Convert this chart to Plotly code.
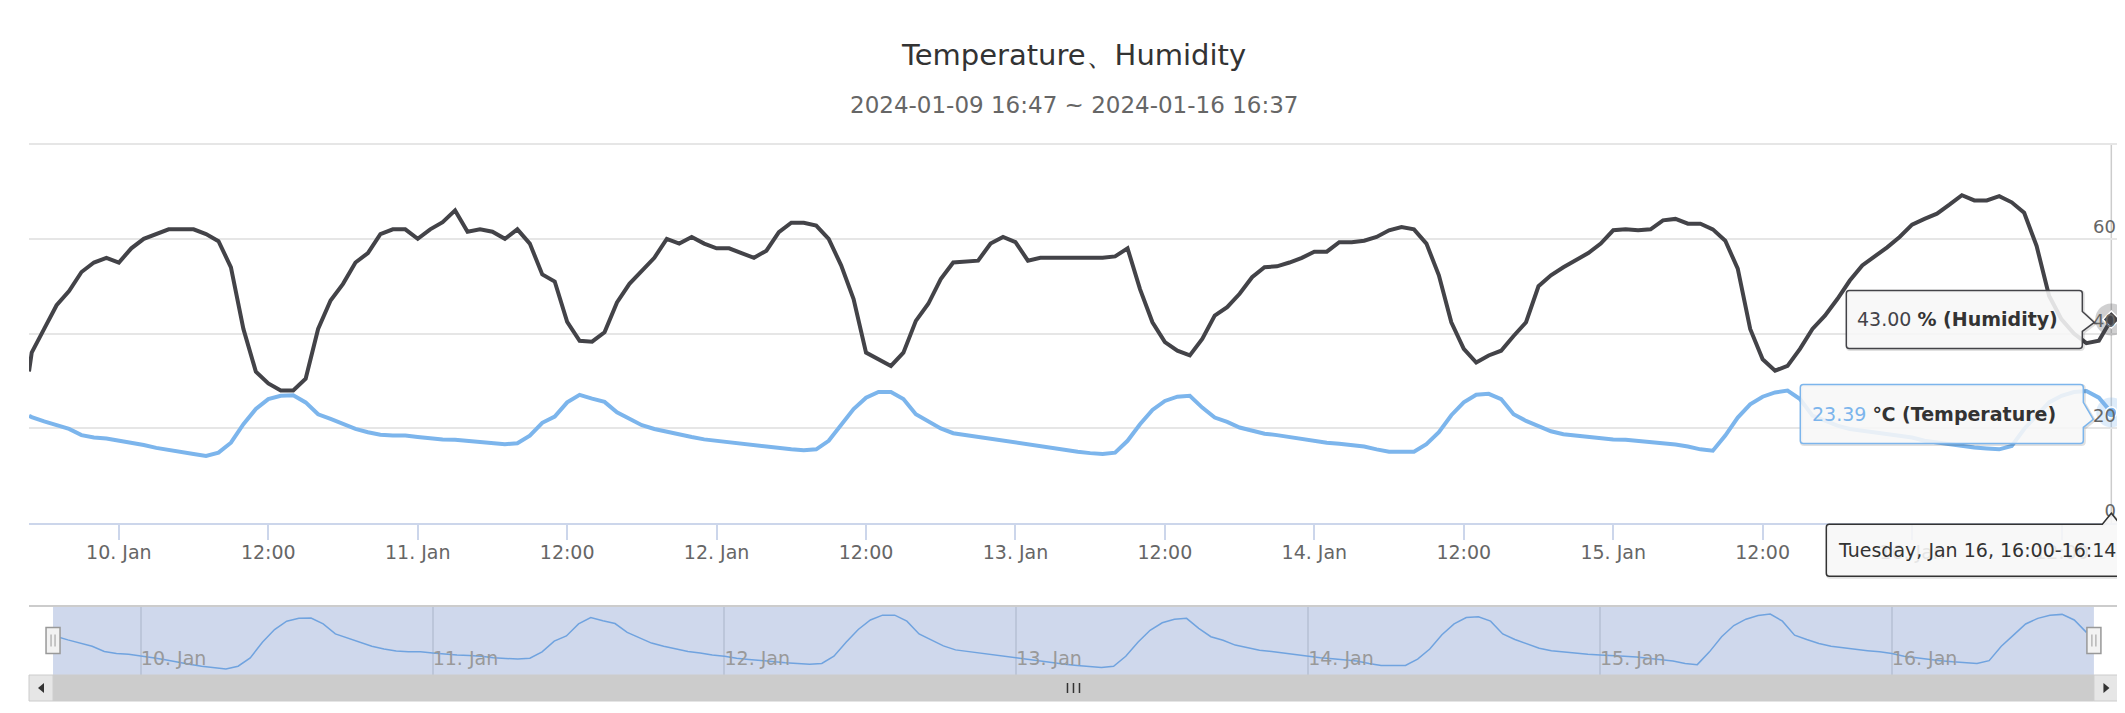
import pandas as pd
import plotly.graph_objects as go

TITLE = "Temperature、Humidity"
SUBTITLE = "2024-01-09 16:47 ~ 2024-01-16 16:37"
TOOLTIP_HEADER = "Tuesday, Jan 16, 16:00-16:14"

# first reading, then one (grouped) reading per hour
times = ["2024-01-09 16:47"] + [
    t.strftime("%Y-%m-%d %H:%M")
    for t in pd.date_range("2024-01-09 17:00", "2024-01-16 16:00", freq="h")
]

temperature = (
    [22.7]
    + [22.4, 21.5, 20.7, 19.9, 18.6, 18.1, 17.9]
    + [17.5, 17.0, 16.5, 15.9, 15.4, 14.9, 14.6, 14.2, 14.9, 17.0, 20.9, 24.1,
       26.2, 26.9, 27.0, 25.5, 23.0, 22.0, 20.9, 19.9, 19.2, 18.7, 18.5, 18.5]
    + [18.2, 17.9, 17.7, 17.6, 17.4, 17.0, 16.9, 16.7, 16.9, 18.5, 21.2, 22.5,
       25.5, 27.1, 26.3, 25.6, 23.4, 22.0, 20.7, 19.9, 19.3, 18.6, 18.2, 17.7]
    + [17.4, 16.9, 16.6, 16.3, 16.0, 15.8, 15.6, 15.4, 15.6, 17.4, 20.9, 24.1,
       26.5, 27.7, 27.7, 26.2, 23.0, 21.6, 20.0, 19.0, 18.6, 18.2, 17.7, 17.3]
    + [17.0, 16.6, 16.2, 15.8, 15.4, 15.1, 14.8, 14.6, 14.9, 17.4, 20.9, 23.9,
       25.8, 26.7, 26.9, 24.4, 22.3, 21.4, 20.2, 19.5, 18.9, 18.6, 18.2, 17.7]
    + [17.4, 17.0, 16.8, 16.5, 16.2, 15.6, 15.1, 15.1, 15.1, 16.7, 19.2, 22.8,
       25.5, 27.1, 27.3, 26.2, 23.0, 21.6, 20.4, 19.4, 18.8, 18.5, 18.1, 17.9]
    + [17.7, 17.6, 17.4, 17.2, 16.9, 16.6, 16.2, 15.6, 15.3, 18.5, 22.3, 25.1,
       26.7, 27.6, 28.0, 26.2, 22.7, 21.6, 20.6, 19.9, 19.5, 19.2, 18.8, 18.5]
    + [18.1, 17.4, 17.0, 16.7, 16.3, 16.0, 15.8, 15.6, 16.3, 19.9, 22.7, 25.5,
       26.9, 27.7, 27.9, 26.5, 23.39]
)

humidity = (
    [32]
    + [36, 41, 46, 49, 53, 55, 56]
    + [55, 58, 60, 61, 62, 62, 62, 61, 59.5, 54, 41, 32,
       29.5, 28, 28, 30.5, 41, 47, 50.5, 55, 57, 61, 62, 62]
    + [60, 62, 63.5, 66, 61.5, 62, 61.5, 60, 62, 59, 52.5, 51,
       42.5, 38.5, 38.3, 40.3, 46.6, 50.5, 53.3, 56, 60, 59, 60.4, 59]
    + [58, 58, 57, 56, 57.5, 61.4, 63.4, 63.4, 62.8, 60, 54.4, 47.3,
       36, 34.6, 33.2, 36, 42.7, 46.3, 51.5, 55, 55.2, 55.4, 59, 60.4]
    + [59.3, 55.4, 56, 56, 56, 56, 56, 56, 56.3, 58, 49.4, 42.4,
       38.2, 36.4, 35.4, 38.9, 43.8, 45.6, 48.4, 51.9, 54, 54.2, 55, 56]
    + [57.3, 57.3, 59.3, 59.3, 59.6, 60.4, 61.8, 62.5, 62, 59, 52.3, 42.4,
       36.8, 33.9, 35.4, 36.4, 39.5, 42.4, 50, 52.3, 54, 55.4, 57, 59]
    + [61.8, 62, 61.8, 62, 63.9, 64.2, 63.2, 63.2, 62, 59.6, 53.7, 41,
       34.6, 32.2, 33.2, 36.8, 41, 43.8, 47.3, 51.2, 54.4, 56.3, 58.2, 60.4]
    + [63, 64.2, 65.3, 67.2, 69.2, 68.1, 68.1, 69, 67.7, 65.5, 58.5, 48,
       43, 40, 38, 38.5, 43]
)

x_tick_vals = [
    "2024-01-10 00:00", "2024-01-10 12:00", "2024-01-11 00:00", "2024-01-11 12:00",
    "2024-01-12 00:00", "2024-01-12 12:00", "2024-01-13 00:00", "2024-01-13 12:00",
    "2024-01-14 00:00", "2024-01-14 12:00", "2024-01-15 00:00", "2024-01-15 12:00",
    "2024-01-16 00:00", "2024-01-16 12:00",
]
x_tick_text = [
    "10. Jan", "12:00", "11. Jan", "12:00", "12. Jan", "12:00", "13. Jan", "12:00",
    "14. Jan", "12:00", "15. Jan", "12:00", "16. Jan", "12:00",
]
y_tick_vals = [0, 20, 40, 60, 80]
y_tick_text = ["0", "20", "40", "60", ""]
x_range = ["2024-01-09 16:47", "2024-01-16 16:37"]

FONT = "DejaVu Sans"
BLUE = "#7cb5ec"
DARK = "#434348"
# the page body keeps its 8px margin, so the figure is 8px smaller each way
FIG_W, FIG_H = 2117, 705
MARGIN = {"l": 21, "r": 6, "t": 131, "b": 12}
PLOT_H = FIG_H - MARGIN["t"] - MARGIN["b"]


def paper_y(px):
    # page pixel (from top) -> paper fraction
    return (FIG_H + 8 - MARGIN["b"] - px) / PLOT_H


MAIN_DOMAIN = [paper_y(523.3), 1.0]
NAV_DOMAIN = [paper_y(675), paper_y(606)]
NAV_X = [0.0115, 0.988]
Y_TOP = 80 * (523.3 - 139) / (523.3 - 144)  # keeps the 80 gridline off the clipped edge


def callout_path(l, r, t, b, side, tip, base, dx=0, dy=0):
    # pixel offsets, y pointing up
    l, r, t, b = l + dx, r + dx, t + dy, b + dy
    tx, ty = tip[0] + dx, tip[1] + dy
    p = [f"M{l + 3},{t}"]
    if side == "top":
        p += [f"L{base[0] + dx},{t}", f"L{tx},{ty}", f"L{base[1] + dx},{t}"]
    p += [f"L{r - 3},{t}", f"Q{r},{t} {r},{t - 3}"]
    if side == "right":
        p += [f"L{r},{base[0] + dy}", f"L{tx},{ty}", f"L{r},{base[1] + dy}"]
    p += [f"L{r},{b + 3}", f"Q{r},{b} {r - 3},{b}", f"L{l + 3},{b}",
          f"Q{l},{b} {l},{b + 3}", f"L{l},{t - 3}", f"Q{l},{t} {l + 3},{t}", "Z"]
    return " ".join(p)


fig = go.Figure()

# main series
fig.add_trace(go.Scatter(x=times, y=temperature, mode="lines", name="Temperature",
                         line={"color": BLUE, "width": 4}, xaxis="x", yaxis="y"))
fig.add_trace(go.Scatter(x=times, y=humidity, mode="lines", name="Humidity",
                         line={"color": DARK, "width": 4}, xaxis="x", yaxis="y"))

# hover state of the last point
fig.add_trace(go.Scatter(x=[times[-1]], y=[humidity[-1]], mode="markers",
                         marker={"size": 32, "color": "rgba(67,67,72,0.25)"}))
fig.add_trace(go.Scatter(x=[times[-1]], y=[humidity[-1]], mode="markers",
                         marker={"size": 13, "symbol": "diamond", "color": DARK,
                                 "line": {"color": "white", "width": 1.5}}))
fig.add_trace(go.Scatter(x=[times[-1]], y=[temperature[-1]], mode="markers",
                         marker={"size": 30, "color": "rgba(124,181,236,0.25)"}))
fig.add_trace(go.Scatter(x=[times[-1]], y=[temperature[-1]], mode="markers",
                         marker={"size": 11, "color": BLUE,
                                 "line": {"color": "white", "width": 1.5}}))

# navigator series
fig.add_trace(go.Scatter(x=times, y=temperature, mode="lines",
                         line={"color": "#70a3df", "width": 1.5}, xaxis="x2", yaxis="y2"))

shapes = []
# crosshair
shapes.append(dict(type="line", xref="x", yref="y", x0=times[-1], x1=times[-1],
                   y0=0, y1=80, line={"color": "#cccccc", "width": 1.5}, layer="below"))

# navigator background (mask) and outline
shapes.append(dict(type="rect", xref="x2 domain", yref="y2 domain", x0=0, x1=1, y0=0, y1=1,
                   fillcolor="#cfd8ec", line={"width": 0}, layer="below"))
shapes.append(dict(type="line", xref="paper", yref="y2 domain", x0=0, x1=1, y0=1, y1=1,
                   line={"color": "#cccccc", "width": 2}))

# navigator handles
for anchor in (0, 1):
    shapes.append(dict(type="rect", xref="x2 domain", yref="y2 domain",
                       xsizemode="pixel", ysizemode="pixel", xanchor=anchor, yanchor=0.5,
                       x0=-7, x1=7, y0=-13, y1=13, fillcolor="#f2f2f2",
                       line={"color": "#999999", "width": 1.5}))
    for off in (-2, 2):
        shapes.append(dict(type="line", xref="x2 domain", yref="y2 domain",
                           xsizemode="pixel", ysizemode="pixel", xanchor=anchor, yanchor=0.5,
                           x0=off, x1=off, y0=-6, y1=6, line={"color": "#999999", "width": 1}))

# scrollbar
sb = NAV_DOMAIN[0]
shapes.append(dict(type="rect", xref="paper", yref="paper", x0=0, x1=1, y0=0, y1=sb,
                   fillcolor="#f2f2f2", line={"width": 0}))
shapes.append(dict(type="rect", xref="x2 domain", yref="paper", x0=0, x1=1, y0=0, y1=sb,
                   fillcolor="#cccccc", line={"color": "#cccccc", "width": 1}))
shapes.append(dict(type="rect", xref="paper", yref="paper", x0=0, x1=NAV_X[0], y0=0, y1=sb,
                   fillcolor="#e6e6e6", line={"color": "#cccccc", "width": 1}))
shapes.append(dict(type="rect", xref="paper", yref="paper", x0=NAV_X[1], x1=1, y0=0, y1=sb,
                   fillcolor="#e6e6e6", line={"color": "#cccccc", "width": 1}))
shapes.append(dict(type="path", xref="paper", yref="paper", xsizemode="pixel", ysizemode="pixel",
                   xanchor=NAV_X[0] / 2, yanchor=sb / 2, path="M3,5 L3,-5 L-3,0 Z",
                   fillcolor="#333333", line={"width": 0}))
shapes.append(dict(type="path", xref="paper", yref="paper", xsizemode="pixel", ysizemode="pixel",
                   xanchor=(NAV_X[1] + 1) / 2, yanchor=sb / 2, path="M-3,5 L-3,-5 L3,0 Z",
                   fillcolor="#333333", line={"width": 0}))
for off in (-6, 0, 6):
    shapes.append(dict(type="line", xref="x2 domain", yref="paper", xsizemode="pixel",
                       ysizemode="pixel", xanchor=0.5, yanchor=sb / 2,
                       x0=off, x1=off, y0=-5, y1=5, line={"color": "#333333", "width": 1.5}))

# tooltips (split tooltip of the hovered last point)
hum_box = dict(l=-265, r=-29, t=29, b=-29, side="right", tip=(-17, -3), base=(8, -12))
tmp_box = dict(l=-311, r=-28, t=28, b=-31, side="right", tip=(-18, -7), base=(10, -15))
date_box = dict(l=-285, r=30, t=-1, b=-53, side="top", tip=(0, 10), base=(-9, 9))

for box, yref, yval, color in (
    (hum_box, "y", humidity[-1], DARK),
    (tmp_box, "y", temperature[-1], BLUE),
    (date_box, "paper", MAIN_DOMAIN[0], "#333333"),
):
    common = dict(type="path", xref="x", yref=yref, xsizemode="pixel", ysizemode="pixel",
                  xanchor=times[-1], yanchor=yval)
    shapes.append(dict(common, path=callout_path(**box, dx=1, dy=-1),
                       fillcolor="rgba(0,0,0,0)",
                       line={"color": "rgba(0,0,0,0.12)", "width": 3}))
    shapes.append(dict(common, path=callout_path(**box), fillcolor="rgba(247,247,247,0.88)",
                       line={"color": color, "width": 1.5}))

annotations = [
    dict(text=SUBTITLE, xref="paper", yref="paper", x=0.5, y=paper_y(105), xanchor="center",
         yanchor="middle", showarrow=False, font={"size": 23, "color": "#666666"}),
    dict(text=f"<span style='color:{DARK}'>{humidity[-1]:.2f}</span> <b>% (Humidity)</b>",
         xref="x", yref="y", x=times[-1], y=humidity[-1], xanchor="left", yanchor="middle",
         xshift=-256, yshift=0, showarrow=False, font={"size": 19, "color": "#333333"}),
    dict(text=f"<span style='color:{BLUE}'>{temperature[-1]:.2f}</span> <b>℃ (Temperature)</b>",
         xref="x", yref="y", x=times[-1], y=temperature[-1], xanchor="left", yanchor="middle",
         xshift=-301, yshift=-2, showarrow=False, font={"size": 19, "color": "#333333"}),
    dict(text=TOOLTIP_HEADER, xref="x", yref="paper", x=times[-1], y=MAIN_DOMAIN[0],
         xanchor="left", yanchor="middle", xshift=-275, yshift=-27, showarrow=False,
         font={"size": 19, "color": "#333333"}),
]

fig.update_layout(
    width=FIG_W,
    height=FIG_H,
    paper_bgcolor="white",
    plot_bgcolor="white",
    font={"family": FONT, "color": "#666666"},
    showlegend=False,
    hovermode=False,
    margin=MARGIN,
    title={"text": TITLE, "x": 0.5, "xref": "paper", "y": 1 - 47 / FIG_H, "yref": "container",
           "xanchor": "center", "yanchor": "middle", "font": {"size": 29, "color": "#333333"}},
    xaxis={"type": "date", "range": x_range, "domain": [0, 1], "anchor": "y",
           "showgrid": False, "zeroline": False, "showline": True, "linecolor": "#ccd6eb",
           "linewidth": 2, "ticks": "outside", "ticklen": 15, "tickwidth": 1.5,
           "tickcolor": "#ccd6eb", "tickvals": x_tick_vals, "ticktext": x_tick_text,
           "ticklabelstandoff": -4, "tickfont": {"size": 19, "color": "#666666"}},
    yaxis={"domain": MAIN_DOMAIN, "anchor": "x", "range": [0, Y_TOP], "side": "right",
           "tickvals": y_tick_vals, "ticktext": y_tick_text, "showgrid": True,
           "gridcolor": "#e6e6e6", "gridwidth": 1.5, "zeroline": False, "ticks": "",
           "ticklabelposition": "inside top", "tickfont": {"size": 18, "color": "#666666"}},
    xaxis2={"type": "date", "range": x_range, "domain": NAV_X, "anchor": "y2",
            "showgrid": True, "gridcolor": "#bcc6da", "gridwidth": 1.5, "zeroline": False,
            "showline": False, "ticks": "", "dtick": 86400000, "tick0": "2024-01-10",
            "tickformat": "%d. %b", "ticklabelposition": "inside right",
            "tickfont": {"size": 19, "color": "#999999"}},
    yaxis2={"domain": NAV_DOMAIN, "anchor": "x2",
            "range": [min(temperature) - 1.5, max(temperature) + 2],
            "showgrid": False, "zeroline": False, "showticklabels": False},
    shapes=shapes,
    annotations=annotations,
)

fig.write_html("out.html")
